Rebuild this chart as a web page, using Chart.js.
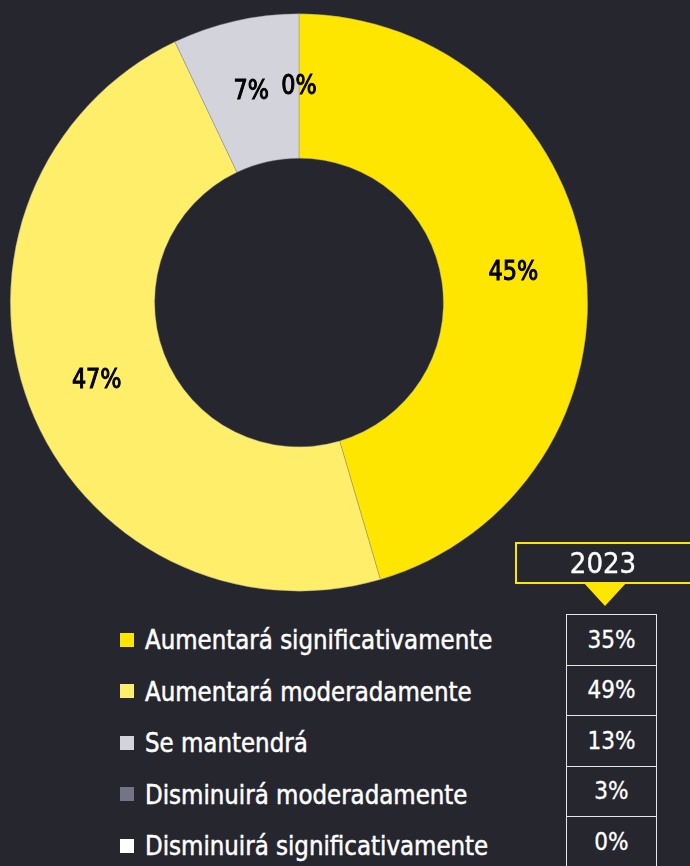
<!DOCTYPE html>
<html>
<head>
<meta charset="utf-8">
<script src="https://cdn.jsdelivr.net/npm/chart.js@4"></script>
<style>
  html, body { margin: 0; padding: 0; }
  body { width: 690px; height: 866px; background: #26262e; position: relative; overflow: hidden;
         font-family: "DejaVu Sans Condensed", "Liberation Sans Narrow", sans-serif; color: #fff; }
  #chartBox { position: absolute; left: 0; top: 0; width: 598px; height: 604px; }
  #leyenda { position: absolute; left: 120px; top: 614px; }
  .item { height: 51.5px; display: flex; align-items: center; font-size: 27px; white-space: nowrap; }
  .item .txt { display: inline-block; transform: scaleX(0.945); transform-origin: left center;
               -webkit-text-stroke: 0.5px #fff; }
  .cuadro { width: 14px; height: 14px; margin-right: 11px; flex: none; }
  #cabecera { position: absolute; left: 515px; top: 542px; width: 190px; height: 38px;
              border: 2px solid #ffe600; box-sizing: content-box; }
  #cabecera span { position: absolute; left: 0; width: 172px; top: 2px; text-align: center;
                   font-size: 29px; -webkit-text-stroke: 0.4px #fff; }
  #flecha { position: absolute; left: 583px; top: 582px; width: 0; height: 0;
            border-left: 22px solid transparent; border-right: 22px solid transparent;
            border-top: 24px solid #ffe600; }
  #tabla { position: absolute; left: 566px; top: 614px; border-collapse: collapse; }
  #tabla td { width: 89px; height: 49.5px; border: 1.5px solid #e6e6e6; text-align: center;
              font-size: 24px; padding: 0; -webkit-text-stroke: 0.3px #fff; }
</style>
</head>
<body>
<div id="chartBox"><canvas id="grafico" width="598" height="604"></canvas></div>
<div id="leyenda"></div>
<div id="cabecera"><span id="anio"></span></div>
<div id="flecha"></div>
<table id="tabla"><tbody></tbody></table>
<script>
const categorias = [
  "Aumentará significativamente",
  "Aumentará moderadamente",
  "Se mantendrá",
  "Disminuirá moderadamente",
  "Disminuirá significativamente"
];
const valores = [45, 47, 7, 0, 0];
const colores = ["#ffe600", "#ffee6a", "#d3d3db", "#747487", "#ffffff"];
const anioTabla = "2023";
const valoresTabla = [35, 49, 13, 3, 0];

// etiquetas dentro de cada porción
const etiquetas = {
  id: "etiquetas",
  afterDatasetsDraw(chart) {
    const ctx = chart.ctx;
    const meta = chart.getDatasetMeta(0);
    const usados = [];
    ctx.save();
    ctx.fillStyle = "#000";
    ctx.font = "27px 'DejaVu Sans Condensed', sans-serif";
    ctx.textAlign = "center";
    ctx.textBaseline = "middle";
    ctx.strokeStyle = "#000";
    ctx.lineWidth = 1;
    meta.data.forEach((arc, i) => {
      const p = arc.tooltipPosition();
      const clave = Math.round(p.x) + "," + Math.round(p.y);
      if (usados.includes(clave)) return;
      usados.push(clave);
      ctx.save();
      ctx.translate(p.x, p.y + 1);
      ctx.scale(0.92, 1);
      ctx.fillText(valores[i] + "%", 0, 0);
      ctx.strokeText(valores[i] + "%", 0, 0);
      ctx.restore();
    });
    ctx.restore();
  }
};

new Chart(document.getElementById("grafico"), {
  type: "doughnut",
  data: {
    labels: categorias,
    datasets: [{
      data: valores,
      backgroundColor: colores,
      borderColor: "rgba(140,140,140,0.7)",
      borderWidth: 0.6,
      hoverOffset: 0
    }]
  },
  options: {
    responsive: false,
    animation: false,
    cutout: "50%",
    layout: { padding: { top: 13, bottom: 12, left: 10, right: 10 } },
    plugins: {
      legend: { display: false },
      tooltip: { enabled: false }
    }
  },
  plugins: [etiquetas]
});

// leyenda y tabla
const leyenda = document.getElementById("leyenda");
categorias.forEach((c, i) => {
  const div = document.createElement("div");
  div.className = "item";
  div.innerHTML = `<span class="cuadro" style="background:${colores[i]}"></span><span class="txt">${c}</span>`;
  leyenda.appendChild(div);
});
document.getElementById("anio").textContent = anioTabla;
const cuerpo = document.querySelector("#tabla tbody");
valoresTabla.forEach(v => {
  cuerpo.innerHTML += `<tr><td>${v}%</td></tr>`;
});
</script>
</body>
</html>
